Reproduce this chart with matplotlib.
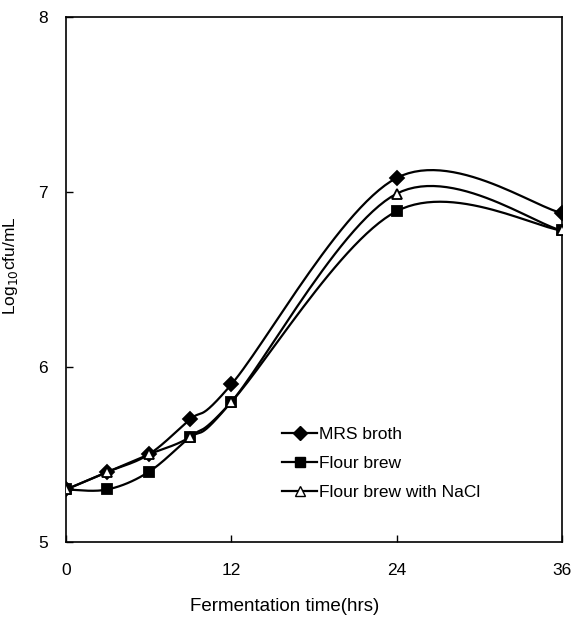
import numpy as np
import matplotlib.pyplot as plt

plt.rcParams['font.family'] = ['Liberation Sans', 'DejaVu Sans']

hours = [0, 3, 6, 9, 12, 24, 36]
mrs_broth = [5.3, 5.4, 5.5, 5.7, 5.9, 7.08, 6.88]
flour_brew = [5.3, 5.3, 5.4, 5.6, 5.8, 6.89, 6.78]
flour_nacl = [5.3, 5.4, 5.5, 5.6, 5.8, 6.99, 6.78]


def smooth(x, y, n=30):
    # excel-style smoothed line: bezier segments with catmull-rom tangents
    p = np.column_stack([x, y]).astype(float)
    pts = [p[0]]
    for i in range(len(p) - 1):
        p0 = p[i - 1] if i > 0 else p[i]
        p3 = p[i + 2] if i + 2 < len(p) else p[i + 1]
        c1 = p[i] + (p[i + 1] - p0) / 6
        c2 = p[i + 1] - (p3 - p[i]) / 6
        t = np.linspace(0, 1, n)[1:, None]
        seg = ((1 - t) ** 3 * p[i] + 3 * (1 - t) ** 2 * t * c1
               + 3 * (1 - t) * t ** 2 * c2 + t ** 3 * p[i + 1])
        pts.extend(seg)
    pts = np.array(pts)
    return pts[:, 0], pts[:, 1]


fig = plt.figure(figsize=(5.71, 6.18), dpi=100)
fig.set_facecolor('white')
ax = fig.add_axes([0.1156, 0.123, 0.8684, 0.8495])

series = [
    (mrs_broth, 'D', 'black', 'MRS broth'),
    (flour_brew, 's', 'black', 'Flour brew'),
    (flour_nacl, '^', 'white', 'Flour brew with NaCl'),
]
for vals, mk, fc, lab in series:
    sx, sy = smooth(hours, vals)
    ax.plot(sx, sy, color='black', lw=1.6, zorder=2)
    ax.plot(hours, vals, linestyle='none', marker=mk, markersize=7,
            markerfacecolor=fc, markeredgecolor='black', markeredgewidth=1.3,
            zorder=3)
    ax.plot([], [], color='black', lw=1.6, marker=mk, markersize=7,
            markerfacecolor=fc, markeredgecolor='black', label=lab)

ax.set_xlim(0, 36)
ax.set_ylim(5, 8)
ax.set_xticks([0, 12, 24, 36])
ax.set_yticks([5, 6, 7, 8])
ax.tick_params(direction='in', length=5, width=1, labelsize=12.5)
ax.tick_params(axis='y', pad=13)
ax.tick_params(axis='x', pad=15)
for s in ax.spines.values():
    s.set_linewidth(1.2)

ax.set_xlabel('Fermentation time(hrs)', fontsize=13.5, va='center')
ax.xaxis.set_label_coords(0.44, -0.122)
ax.set_ylabel('Log$_{10}$cfu/mL', fontsize=12.5)
ax.yaxis.set_label_coords(-0.093, 0.526)

ax.legend(loc='lower left', bbox_to_anchor=(0.405, 0.05), frameon=False,
          fontsize=12.5, handlelength=2.0, handletextpad=0.1, labelspacing=0.8)

fig.savefig('out.png', dpi=100)
